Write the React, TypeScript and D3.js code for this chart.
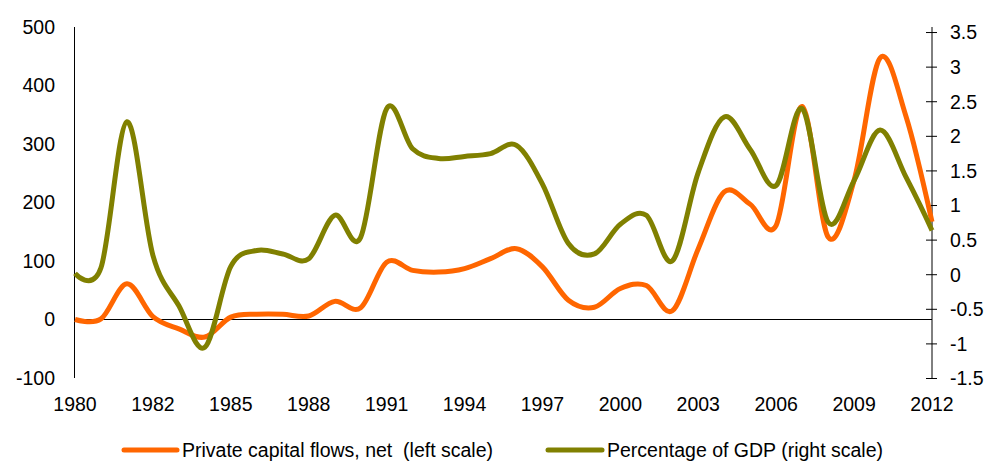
import React from 'react';
import * as d3 from 'd3';

// one value per period, 34 periods, labelled every third period
const tickLabels = ['1980', '1982', '1985', '1988', '1991', '1994', '1997', '2000', '2003', '2006', '2009', '2012'];
const tickEvery = 3;

// Private capital flows, net (left scale)
const privateFlows = [
	0, 1, 61, 5, -16, -30, 4, 9, 9, 6, 31, 20, 98, 84, 81, 87, 104, 121, 90, 33, 21, 53, 58, 15, 121, 218,
	197, 161, 364, 141, 238, 447, 347, 167,
];

// Percentage of GDP (right scale)
const pctGdp = [
	0.02, 0.1, 2.21, 0.28, -0.45, -1.05, 0.12, 0.35, 0.3, 0.23, 0.86, 0.54, 2.4, 1.82, 1.68, 1.71, 1.75, 1.87,
	1.31, 0.45, 0.3, 0.73, 0.86, 0.2, 1.48, 2.28, 1.81, 1.29, 2.4, 0.76, 1.36, 2.09, 1.41, 0.64,
];

const leftTicks = [-100, 0, 100, 200, 300, 400, 500];
const rightTicks = [-1.5, -1, -0.5, 0, 0.5, 1, 1.5, 2, 2.5, 3, 3.5];

const W = 989;
const H = 461;
const plot = { left: 74.5, right: 932, top: 27, bottom: 378 };
const font = '"Liberation Sans", Arial, sans-serif';

const App: React.FC = () => {
	const x = d3
		.scaleLinear()
		.domain([0, privateFlows.length - 1])
		.range([75, plot.right]);
	const yLeft = d3.scaleLinear().domain([-100, 500]).range([plot.bottom, plot.top]);
	const yRight = d3.scaleLinear().domain([-1.5, 3.58]).range([378.5, plot.top]);

	const lineLeft = d3
		.line<number>()
		.x((_, i) => x(i))
		.y((d) => yLeft(d))
		.curve(d3.curveCatmullRom.alpha(0));
	const lineRight = d3
		.line<number>()
		.x((_, i) => x(i))
		.y((d) => yRight(d))
		.curve(d3.curveCatmullRom.alpha(0));

	return (
		<svg
			width={W}
			height={H}
			style={{ position: 'absolute', left: 0, top: 0, background: '#fff' }}
			fontFamily={font}>
			{/* left axis */}
			<line x1={plot.left} x2={plot.left} y1={plot.top} y2={plot.bottom} stroke="#000" strokeWidth={1} />
			{leftTicks.map((t) => (
				<text key={t} x={55} y={yLeft(t)} dy="0.35em" textAnchor="end" fontSize={19.5} fill="#000">
					{t}
				</text>
			))}

			{/* zero line / category axis */}
			<line x1={plot.left} x2={plot.right} y1={yLeft(0)} y2={yLeft(0)} stroke="#000" strokeWidth={1} />
			{tickLabels.map((t, i) => (
				<text key={t} x={x(i * tickEvery)} y={410.5} textAnchor="middle" fontSize={19.5} fill="#000">
					{t}
				</text>
			))}

			{/* right axis */}
			<line x1={plot.right} x2={plot.right} y1={plot.top} y2={378.5} stroke="#000" strokeWidth={1} />
			{rightTicks.map((t) => (
				<g key={t}>
					<line
						x1={plot.right - 6}
						x2={plot.right + 5}
						y1={yRight(t)}
						y2={yRight(t)}
						stroke="#000"
						strokeWidth={1}
					/>
					<text x={950} y={yRight(t)} dy="0.35em" fontSize={19.5} fill="#000">
						{t}
					</text>
				</g>
			))}

			{/* series */}
			<path d={lineLeft(privateFlows) ?? ''} fill="none" stroke="#FF6600" strokeWidth={5} strokeLinejoin="round" />
			<path d={lineRight(pctGdp) ?? ''} fill="none" stroke="#808000" strokeWidth={5} strokeLinejoin="round" />

			{/* legend */}
			<line x1={124} x2={177} y1={450} y2={450} stroke="#FF6600" strokeWidth={5} strokeLinecap="round" />
			<text x={182} y={457} fontSize={19.5} fill="#000" style={{ whiteSpace: 'pre' }}>
				{'Private capital flows, net  (left scale)'}
			</text>
			<line x1={548} x2={602} y1={450} y2={450} stroke="#808000" strokeWidth={5} strokeLinecap="round" />
			<text x={607} y={457} fontSize={19.5} fill="#000">
				Percentage of GDP (right scale)
			</text>
		</svg>
	);
};

export default App;
